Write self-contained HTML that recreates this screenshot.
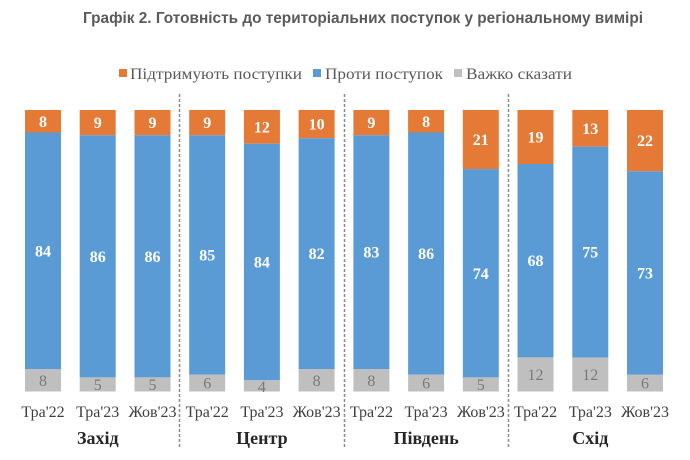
<!DOCTYPE html>
<html><head><meta charset="utf-8"><style>
html,body{margin:0;padding:0;background:#fff;}
svg{display:block;}
.s{font-family:"Liberation Serif","DejaVu Serif",serif;}
.w{font-family:"Liberation Serif","DejaVu Serif",serif;font-weight:bold;font-size:16px;fill:#fff;text-anchor:middle;}
.g{font-family:"Liberation Serif","DejaVu Serif",serif;font-size:16px;fill:#7a7a7a;text-anchor:middle;}
.c{font-family:"Liberation Serif","DejaVu Serif",serif;font-size:16px;fill:#404040;text-anchor:middle;}
.r{font-family:"Liberation Serif","DejaVu Serif",serif;font-weight:bold;font-size:18px;fill:#262626;text-anchor:middle;}
.l{font-family:"Liberation Serif","DejaVu Serif",serif;font-size:16px;fill:#595959;}
</style></head><body>
<svg width="690" height="460" viewBox="0 0 690 460" xmlns="http://www.w3.org/2000/svg">
<rect width="690" height="460" fill="#fff"/>
<text x="83" y="23" textLength="560" lengthAdjust="spacingAndGlyphs" style="font-family:'Liberation Sans',Arial,sans-serif;font-weight:bold;font-size:16px;fill:#5a5a5a;">Графік 2. Готовність до територіальних поступок у регіональному вимірі</text>

<rect x="119" y="69" width="8" height="8" fill="#E47A36"/>
<text class="l" x="130" y="79" textLength="172" lengthAdjust="spacingAndGlyphs">Підтримують поступки</text>
<rect x="313" y="69" width="8" height="8" fill="#5B9BD5"/>
<text class="l" x="325" y="79" textLength="118" lengthAdjust="spacingAndGlyphs">Проти поступок</text>
<rect x="454" y="69" width="8" height="8" fill="#BFBFBF"/>
<text class="l" x="466" y="79" textLength="106" lengthAdjust="spacingAndGlyphs">Важко сказати</text>

<g stroke="#8a8a8a" stroke-width="1.5" stroke-dasharray="3,2">
<line x1="179.5" y1="94" x2="179.5" y2="447"/>
<line x1="344.5" y1="94" x2="344.5" y2="447"/>
<line x1="508.5" y1="94" x2="508.5" y2="447"/>
</g>

<g>
<rect x="25" y="110" width="36" height="22.5" fill="#E47A36"/>
<rect x="25" y="132.5" width="36" height="236.5" fill="#5B9BD5"/>
<rect x="25" y="369" width="36" height="22.5" fill="#BFBFBF"/>
<rect x="79.7" y="110" width="36" height="25.3" fill="#E47A36"/>
<rect x="79.7" y="135.3" width="36" height="242.1" fill="#5B9BD5"/>
<rect x="79.7" y="377.4" width="36" height="14.1" fill="#BFBFBF"/>
<rect x="134.5" y="110" width="36" height="25.3" fill="#E47A36"/>
<rect x="134.5" y="135.3" width="36" height="242.1" fill="#5B9BD5"/>
<rect x="134.5" y="377.4" width="36" height="14.1" fill="#BFBFBF"/>
<rect x="189.2" y="110" width="36" height="25.3" fill="#E47A36"/>
<rect x="189.2" y="135.3" width="36" height="239.3" fill="#5B9BD5"/>
<rect x="189.2" y="374.6" width="36" height="16.9" fill="#BFBFBF"/>
<rect x="243.9" y="110" width="36" height="33.8" fill="#E47A36"/>
<rect x="243.9" y="143.8" width="36" height="236.5" fill="#5B9BD5"/>
<rect x="243.9" y="380.3" width="36" height="11.2" fill="#BFBFBF"/>
<rect x="298.6" y="110" width="36" height="28.2" fill="#E47A36"/>
<rect x="298.6" y="138.2" width="36" height="230.8" fill="#5B9BD5"/>
<rect x="298.6" y="369" width="36" height="22.5" fill="#BFBFBF"/>
<rect x="353.4" y="110" width="36" height="25.3" fill="#E47A36"/>
<rect x="353.4" y="135.3" width="36" height="233.7" fill="#5B9BD5"/>
<rect x="353.4" y="369" width="36" height="22.5" fill="#BFBFBF"/>
<rect x="408.1" y="110" width="36" height="22.5" fill="#E47A36"/>
<rect x="408.1" y="132.5" width="36" height="242.1" fill="#5B9BD5"/>
<rect x="408.1" y="374.6" width="36" height="16.9" fill="#BFBFBF"/>
<rect x="462.8" y="110" width="36" height="59.1" fill="#E47A36"/>
<rect x="462.8" y="169.1" width="36" height="208.3" fill="#5B9BD5"/>
<rect x="462.8" y="377.4" width="36" height="14.1" fill="#BFBFBF"/>
<rect x="517.5" y="110" width="36" height="54" fill="#E47A36"/>
<rect x="517.5" y="164" width="36" height="193.4" fill="#5B9BD5"/>
<rect x="517.5" y="357.4" width="36" height="34.1" fill="#BFBFBF"/>
<rect x="572.3" y="110" width="36" height="36.6" fill="#E47A36"/>
<rect x="572.3" y="146.6" width="36" height="211.1" fill="#5B9BD5"/>
<rect x="572.3" y="357.7" width="36" height="33.8" fill="#BFBFBF"/>
<rect x="627" y="110" width="36" height="61.3" fill="#E47A36"/>
<rect x="627" y="171.3" width="36" height="203.5" fill="#5B9BD5"/>
<rect x="627" y="374.8" width="36" height="16.7" fill="#BFBFBF"/>
</g>

<text class="w" x="43" y="126.8">8</text>
<text class="w" x="43" y="256.3">84</text>
<text class="g" x="43" y="385.8">8</text>

<text class="w" x="97.7" y="128.2">9</text>
<text class="w" x="97.7" y="261.9">86</text>
<text class="g" x="97.7" y="390">5</text>

<text class="w" x="152.5" y="128.2">9</text>
<text class="w" x="152.5" y="261.9">86</text>
<text class="g" x="152.5" y="390">5</text>

<text class="w" x="207.2" y="128.2">9</text>
<text class="w" x="207.2" y="260.5">85</text>
<text class="g" x="207.2" y="388.6">6</text>

<text class="w" x="261.9" y="132.4">12</text>
<text class="w" x="261.9" y="267.6">84</text>
<text class="g" x="261.9" y="392">4</text>

<text class="w" x="316.6" y="129.6">10</text>
<text class="w" x="316.6" y="259.1">82</text>
<text class="g" x="316.6" y="385.8">8</text>

<text class="w" x="371.4" y="128.2">9</text>
<text class="w" x="371.4" y="257.6">83</text>
<text class="g" x="371.4" y="385.8">8</text>

<text class="w" x="426.1" y="126.8">8</text>
<text class="w" x="426.1" y="259.1">86</text>
<text class="g" x="426.1" y="388.6">6</text>

<text class="w" x="480.8" y="145.1">21</text>
<text class="w" x="480.8" y="278.8">74</text>
<text class="g" x="480.8" y="390">5</text>

<text class="w" x="535.5" y="142.5">19</text>
<text class="w" x="535.5" y="266.2">68</text>
<text class="g" x="535.5" y="380">12</text>

<text class="w" x="590.3" y="133.8">13</text>
<text class="w" x="590.3" y="257.7">75</text>
<text class="g" x="590.3" y="380.1">12</text>

<text class="w" x="645" y="146.2">22</text>
<text class="w" x="645" y="278.6">73</text>
<text class="g" x="645" y="388.7">6</text>

<text class="c" x="43" y="417">Тра'22</text>
<text class="c" x="97.7" y="417">Тра'23</text>
<text class="c" x="152.5" y="417">Жов'23</text>
<text class="c" x="207.2" y="417">Тра'22</text>
<text class="c" x="261.9" y="417">Тра'23</text>
<text class="c" x="316.6" y="417">Жов'23</text>
<text class="c" x="371.4" y="417">Тра'22</text>
<text class="c" x="426.1" y="417">Тра'23</text>
<text class="c" x="480.8" y="417">Жов'23</text>
<text class="c" x="535.5" y="417">Тра'22</text>
<text class="c" x="590.3" y="417">Тра'23</text>
<text class="c" x="645" y="417">Жов'23</text>

<text class="r" x="97.8" y="444">Захід</text>
<text class="r" x="261.9" y="444">Центр</text>
<text class="r" x="426.1" y="444">Південь</text>
<text class="r" x="590.3" y="444">Схід</text>
</svg>
</body></html>
